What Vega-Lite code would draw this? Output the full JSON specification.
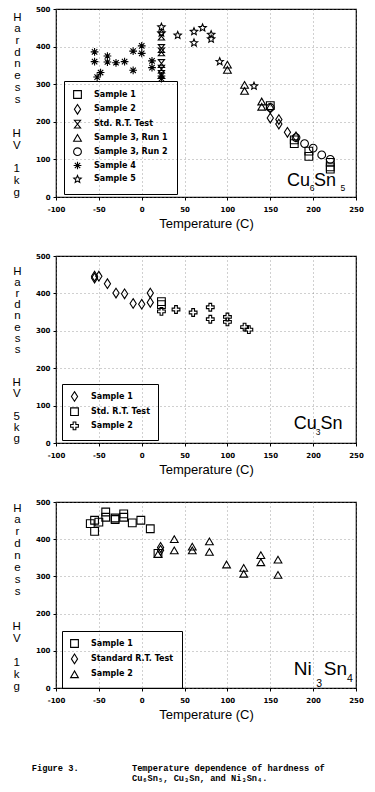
{
  "$schema": "https://vega.github.io/schema/vega-lite/v6.json",
  "padding": {"left": 11, "top": 4, "right": 0, "bottom": 0},
  "spacing": 20,
  "datasets": {
    "cu6sn5": [
      {"series": "Sample 1", "T": 150, "HV": 243},
      {"series": "Sample 1", "T": 178, "HV": 152},
      {"series": "Sample 1", "T": 178, "HV": 142},
      {"series": "Sample 1", "T": 195, "HV": 122},
      {"series": "Sample 1", "T": 195, "HV": 108},
      {"series": "Sample 1", "T": 220, "HV": 92},
      {"series": "Sample 1", "T": 220, "HV": 80},
      {"series": "Sample 1", "T": 220, "HV": 74},
      {"series": "Sample 2", "T": 150, "HV": 236},
      {"series": "Sample 2", "T": 150, "HV": 210},
      {"series": "Sample 2", "T": 160, "HV": 206},
      {"series": "Sample 2", "T": 160, "HV": 194},
      {"series": "Sample 2", "T": 170, "HV": 172},
      {"series": "Sample 2", "T": 180, "HV": 160},
      {"series": "Std. R.T. Test", "T": 23, "HV": 428},
      {"series": "Std. R.T. Test", "T": 23, "HV": 395},
      {"series": "Std. R.T. Test", "T": 23, "HV": 386},
      {"series": "Std. R.T. Test", "T": 23, "HV": 355},
      {"series": "Std. R.T. Test", "T": 23, "HV": 340},
      {"series": "Std. R.T. Test", "T": 23, "HV": 326},
      {"series": "Sample 3, Run 1", "T": 100, "HV": 352},
      {"series": "Sample 3, Run 1", "T": 100, "HV": 338},
      {"series": "Sample 3, Run 1", "T": 120, "HV": 298},
      {"series": "Sample 3, Run 1", "T": 120, "HV": 282},
      {"series": "Sample 3, Run 1", "T": 140, "HV": 254},
      {"series": "Sample 3, Run 1", "T": 140, "HV": 240},
      {"series": "Sample 3, Run 2", "T": 150, "HV": 238},
      {"series": "Sample 3, Run 2", "T": 180, "HV": 158},
      {"series": "Sample 3, Run 2", "T": 190, "HV": 142},
      {"series": "Sample 3, Run 2", "T": 200, "HV": 130},
      {"series": "Sample 3, Run 2", "T": 210, "HV": 112},
      {"series": "Sample 3, Run 2", "T": 220, "HV": 100},
      {"series": "Sample 4", "T": -55, "HV": 386},
      {"series": "Sample 4", "T": -55, "HV": 360},
      {"series": "Sample 4", "T": -48, "HV": 331},
      {"series": "Sample 4", "T": -52, "HV": 319},
      {"series": "Sample 4", "T": -40, "HV": 375},
      {"series": "Sample 4", "T": -40, "HV": 359},
      {"series": "Sample 4", "T": -30, "HV": 357},
      {"series": "Sample 4", "T": -20, "HV": 360},
      {"series": "Sample 4", "T": -10, "HV": 388},
      {"series": "Sample 4", "T": -10, "HV": 337},
      {"series": "Sample 4", "T": 0, "HV": 402},
      {"series": "Sample 4", "T": 0, "HV": 382},
      {"series": "Sample 4", "T": 12, "HV": 362},
      {"series": "Sample 4", "T": 12, "HV": 344},
      {"series": "Sample 4", "T": 23, "HV": 322},
      {"series": "Sample 4", "T": 23, "HV": 315},
      {"series": "Sample 5", "T": 23, "HV": 452},
      {"series": "Sample 5", "T": 23, "HV": 436},
      {"series": "Sample 5", "T": 42, "HV": 430},
      {"series": "Sample 5", "T": 61, "HV": 440},
      {"series": "Sample 5", "T": 61, "HV": 410},
      {"series": "Sample 5", "T": 71, "HV": 450},
      {"series": "Sample 5", "T": 81, "HV": 432},
      {"series": "Sample 5", "T": 81, "HV": 420},
      {"series": "Sample 5", "T": 91, "HV": 360},
      {"series": "Sample 5", "T": 131, "HV": 295}
    ],
    "cu3sn": [
      {"series": "Sample 1", "T": -55, "HV": 441},
      {"series": "Sample 1", "T": -55, "HV": 446},
      {"series": "Sample 1", "T": -50, "HV": 446},
      {"series": "Sample 1", "T": -40, "HV": 426},
      {"series": "Sample 1", "T": -30, "HV": 401},
      {"series": "Sample 1", "T": -20, "HV": 399},
      {"series": "Sample 1", "T": -10, "HV": 373},
      {"series": "Sample 1", "T": 0, "HV": 371},
      {"series": "Sample 1", "T": 10, "HV": 401},
      {"series": "Sample 1", "T": 10, "HV": 376},
      {"series": "Std. R.T. Test", "T": 23, "HV": 378},
      {"series": "Std. R.T. Test", "T": 23, "HV": 370},
      {"series": "Sample 2", "T": 23, "HV": 352},
      {"series": "Sample 2", "T": 40, "HV": 357},
      {"series": "Sample 2", "T": 60, "HV": 349},
      {"series": "Sample 2", "T": 80, "HV": 363},
      {"series": "Sample 2", "T": 80, "HV": 331},
      {"series": "Sample 2", "T": 100, "HV": 337},
      {"series": "Sample 2", "T": 100, "HV": 324},
      {"series": "Sample 2", "T": 120, "HV": 310},
      {"series": "Sample 2", "T": 125, "HV": 303}
    ],
    "ni3sn4": [
      {"series": "Sample 1", "T": -60, "HV": 442},
      {"series": "Sample 1", "T": -55, "HV": 451},
      {"series": "Sample 1", "T": -55, "HV": 421},
      {"series": "Sample 1", "T": -50, "HV": 446},
      {"series": "Sample 1", "T": -42, "HV": 473},
      {"series": "Sample 1", "T": -42, "HV": 459},
      {"series": "Sample 1", "T": -31, "HV": 457},
      {"series": "Sample 1", "T": -31, "HV": 453},
      {"series": "Sample 1", "T": -21, "HV": 468},
      {"series": "Sample 1", "T": -21, "HV": 459},
      {"series": "Sample 1", "T": -11, "HV": 444},
      {"series": "Sample 1", "T": -1, "HV": 451},
      {"series": "Sample 1", "T": 10, "HV": 428},
      {"series": "Sample 1", "T": 19, "HV": 362},
      {"series": "Standard R.T. Test", "T": 22, "HV": 378},
      {"series": "Standard R.T. Test", "T": 22, "HV": 370},
      {"series": "Sample 2", "T": 19, "HV": 360},
      {"series": "Sample 2", "T": 38, "HV": 400},
      {"series": "Sample 2", "T": 38, "HV": 370},
      {"series": "Sample 2", "T": 59, "HV": 380},
      {"series": "Sample 2", "T": 59, "HV": 370},
      {"series": "Sample 2", "T": 79, "HV": 394},
      {"series": "Sample 2", "T": 79, "HV": 366},
      {"series": "Sample 2", "T": 99, "HV": 332},
      {"series": "Sample 2", "T": 119, "HV": 323},
      {"series": "Sample 2", "T": 119, "HV": 307},
      {"series": "Sample 2", "T": 139, "HV": 357},
      {"series": "Sample 2", "T": 139, "HV": 338},
      {"series": "Sample 2", "T": 159, "HV": 345},
      {"series": "Sample 2", "T": 159, "HV": 304}
    ]
  },
  "vconcat": [
    {
      "width": 300,
      "height": 188,
      "layer": [
        {
          "data": {"name": "cu6sn5"},
          "mark": {"type": "point", "filled": false, "stroke": "black", "strokeWidth": 1.1, "size": 60, "opacity": 1},
          "encoding": {
            "x": {"field": "T", "type": "quantitative", "scale": {"domain": [-100, 250], "nice": false, "zero": false},
              "axis": {"title": "Temperature (C)", "values": [-100, -50, 0, 50, 100, 150, 200, 250], "labelExpr": "'' + datum.value", "labelOverlap": false}},
            "y": {"field": "HV", "type": "quantitative", "scale": {"domain": [0, 500], "nice": false},
              "axis": {"title": ["H", "a", "r", "d", "n", "e", "s", "s"], "titleY": 2, "titleLineHeight": 11.73, "values": [0, 100, 200, 300, 400, 500], "labelOverlap": false, "tickCount": 6}},
            "shape": {"field": "series", "type": "nominal",
              "scale": {"domain": ["Sample 1", "Sample 2", "Std. R.T. Test", "Sample 3, Run 1", "Sample 3, Run 2", "Sample 4", "Sample 5"],
                "range": ["square", "M0,-1.25L0.8,0L0,1.25L-0.8,0Z", "M-0.8,-1L0.8,-1L-0.8,1L0.8,1Z", "triangle-up", "circle", "M-1,0L1,0M0,-1L0,1M-0.7,-0.7L0.7,0.7M-0.7,0.7L0.7,-0.7", "M0,-1L0.265,-0.364L0.951,-0.309L0.428,0.139L0.588,0.809L0,0.45L-0.588,0.809L-0.428,0.139L-0.951,-0.309L-0.265,-0.364Z"]},
              "legend": {"legendX": 8, "legendY": 72, "padding": 9, "rowPadding": 0.8}}
          }
        },
        {"data": {"values": [{}]}, "mark": {"type": "text", "align": "center", "baseline": "top", "font": "Liberation Sans", "fontSize": 11.5, "lineHeight": 11.73, "text": ["H", "V"]}, "encoding": {"x": {"datum": -145.8}, "y": {"datum": 182.7}}},
        {"data": {"values": [{}]}, "mark": {"type": "text", "align": "center", "baseline": "top", "font": "Liberation Sans", "fontSize": 11.5, "lineHeight": 11.73, "text": ["1", "k", "g"]}, "encoding": {"x": {"datum": -145.8}, "y": {"datum": 89.1}}},
        {"data": {"values": [{}]}, "mark": {"type": "text", "align": "left", "baseline": "alphabetic", "font": "Liberation Sans", "fontSize": 18}, "encoding": {"x": {"datum": 169.6}, "y": {"datum": 29.3}, "text": {"value": "Cu"}}},
        {"data": {"values": [{}]}, "mark": {"type": "text", "align": "left", "baseline": "alphabetic", "font": "Liberation Sans", "fontSize": 8.5}, "encoding": {"x": {"datum": 196}, "y": {"datum": 16}, "text": {"value": "6"}}},
        {"data": {"values": [{}]}, "mark": {"type": "text", "align": "left", "baseline": "alphabetic", "font": "Liberation Sans", "fontSize": 18}, "encoding": {"x": {"datum": 201}, "y": {"datum": 29.3}, "text": {"value": "Sn"}}},
        {"data": {"values": [{}]}, "mark": {"type": "text", "align": "left", "baseline": "alphabetic", "font": "Liberation Sans", "fontSize": 8.5}, "encoding": {"x": {"datum": 232}, "y": {"datum": 16}, "text": {"value": "5"}}}
      ]
    },
    {
      "width": 300,
      "height": 187,
      "layer": [
        {
          "data": {"name": "cu3sn"},
          "mark": {"type": "point", "filled": false, "stroke": "black", "strokeWidth": 1.1, "size": 60, "opacity": 1},
          "encoding": {
            "x": {"field": "T", "type": "quantitative", "scale": {"domain": [-100, 250], "nice": false, "zero": false},
              "axis": {"title": "Temperature (C)", "values": [-100, -50, 0, 50, 100, 150, 200, 250], "labelExpr": "'' + datum.value", "labelOverlap": false}},
            "y": {"field": "HV", "type": "quantitative", "scale": {"domain": [0, 500], "nice": false},
              "axis": {"title": ["H", "a", "r", "d", "n", "e", "s", "s"], "titleY": 9, "titleLineHeight": 11.2, "values": [0, 100, 200, 300, 400, 500], "labelOverlap": false, "tickCount": 6}},
            "shape": {"field": "series", "type": "nominal",
              "scale": {"domain": ["Sample 1", "Std. R.T. Test", "Sample 2"],
                "range": ["M0,-1.25L0.8,0L0,1.25L-0.8,0Z", "square", "M-0.35,-1L0.35,-1L0.35,-0.35L1,-0.35L1,0.35L0.35,0.35L0.35,1L-0.35,1L-0.35,0.35L-1,0.35L-1,-0.35L-0.35,-0.35Z"]},
              "legend": {"legendX": 6, "legendY": 128, "padding": 8, "rowPadding": 1.2}}
          }
        },
        {"data": {"values": [{}]}, "mark": {"type": "text", "align": "center", "baseline": "top", "font": "Liberation Sans", "fontSize": 11.5, "lineHeight": 11.2, "text": ["H", "V"]}, "encoding": {"x": {"datum": -145.8}, "y": {"datum": 176.5}}},
        {"data": {"values": [{}]}, "mark": {"type": "text", "align": "center", "baseline": "top", "font": "Liberation Sans", "fontSize": 11.5, "lineHeight": 11.2, "text": ["5", "k", "g"]}, "encoding": {"x": {"datum": -145.8}, "y": {"datum": 86.6}}},
        {"data": {"values": [{}]}, "mark": {"type": "text", "align": "left", "baseline": "alphabetic", "font": "Liberation Sans", "fontSize": 18}, "encoding": {"x": {"datum": 177.5}, "y": {"datum": 36.6}, "text": {"value": "Cu"}}},
        {"data": {"values": [{}]}, "mark": {"type": "text", "align": "left", "baseline": "alphabetic", "font": "Liberation Sans", "fontSize": 8.5}, "encoding": {"x": {"datum": 203}, "y": {"datum": 21.4}, "text": {"value": "3"}}},
        {"data": {"values": [{}]}, "mark": {"type": "text", "align": "left", "baseline": "alphabetic", "font": "Liberation Sans", "fontSize": 18}, "encoding": {"x": {"datum": 208.5}, "y": {"datum": 36.6}, "text": {"value": "Sn"}}}
      ]
    },
    {
      "width": 300,
      "height": 186,
      "layer": [
        {
          "data": {"name": "ni3sn4"},
          "mark": {"type": "point", "filled": false, "stroke": "black", "strokeWidth": 1.1, "size": 60, "opacity": 1},
          "encoding": {
            "x": {"field": "T", "type": "quantitative", "scale": {"domain": [-100, 250], "nice": false, "zero": false},
              "axis": {"title": "Temperature (C)", "values": [-100, -50, 0, 50, 100, 150, 200, 250], "labelExpr": "'' + datum.value", "labelOverlap": false}},
            "y": {"field": "HV", "type": "quantitative", "scale": {"domain": [0, 500], "nice": false},
              "axis": {"title": ["H", "a", "r", "d", "n", "e", "s", "s"], "titleY": 0, "titleLineHeight": 11.9, "values": [0, 100, 200, 300, 400, 500], "labelOverlap": false, "tickCount": 6}},
            "shape": {"field": "series", "type": "nominal",
              "scale": {"domain": ["Sample 1", "Standard R.T. Test", "Sample 2"],
                "range": ["square", "M0,-1.25L0.8,0L0,1.25L-0.8,0Z", "triangle-up"]},
              "legend": {"legendX": 6, "legendY": 129, "padding": 8, "rowPadding": 1.4}}
          }
        },
        {"data": {"values": [{}]}, "mark": {"type": "text", "align": "center", "baseline": "top", "font": "Liberation Sans", "fontSize": 11.5, "lineHeight": 11.9, "text": ["H", "V"]}, "encoding": {"x": {"datum": -145.8}, "y": {"datum": 179.3}}},
        {"data": {"values": [{}]}, "mark": {"type": "text", "align": "center", "baseline": "top", "font": "Liberation Sans", "fontSize": 11.5, "lineHeight": 11.9, "text": ["1", "k", "g"]}, "encoding": {"x": {"datum": -145.8}, "y": {"datum": 83.3}}},
        {"data": {"values": [{}]}, "mark": {"type": "text", "align": "left", "baseline": "alphabetic", "font": "Liberation Sans", "fontSize": 19}, "encoding": {"x": {"datum": 177.5}, "y": {"datum": 35}, "text": {"value": "Ni"}}},
        {"data": {"values": [{}]}, "mark": {"type": "text", "align": "left", "baseline": "alphabetic", "font": "Liberation Sans", "fontSize": 10.5}, "encoding": {"x": {"datum": 203.5}, "y": {"datum": 2}, "text": {"value": "3"}}},
        {"data": {"values": [{}]}, "mark": {"type": "text", "align": "left", "baseline": "alphabetic", "font": "Liberation Sans", "fontSize": 19}, "encoding": {"x": {"datum": 212.5}, "y": {"datum": 35}, "text": {"value": "Sn"}}},
        {"data": {"values": [{}]}, "mark": {"type": "text", "align": "left", "baseline": "alphabetic", "font": "Liberation Sans", "fontSize": 10.5}, "encoding": {"x": {"datum": 239.5}, "y": {"datum": 17}, "text": {"value": "4"}}},
        {"data": {"values": [{}]}, "mark": {"type": "text", "align": "left", "baseline": "alphabetic", "font": "Liberation Mono", "fontSize": 8.7, "fontWeight": "bold"}, "encoding": {"x": {"datum": -128.3}, "y": {"datum": -222.3}, "text": {"value": "Figure 3."}}},
        {"data": {"values": [{}]}, "mark": {"type": "text", "align": "left", "baseline": "alphabetic", "font": "Liberation Mono", "fontSize": 8.7, "fontWeight": "bold"}, "encoding": {"x": {"datum": -11.4}, "y": {"datum": -222.3}, "text": {"value": "Temperature dependence of hardness of"}}},
        {"data": {"values": [{}]}, "mark": {"type": "text", "align": "left", "baseline": "alphabetic", "font": "Liberation Mono", "fontSize": 8.7, "fontWeight": "bold"}, "encoding": {"x": {"datum": -11.4}, "y": {"datum": -251.3}, "text": {"value": "Cu₆Sn₅, Cu₃Sn, and Ni₃Sn₄."}}}
      ]
    }
  ],
  "resolve": {"scale": {"shape": "independent", "x": "independent", "y": "independent"}, "legend": {"shape": "independent"}},
  "config": {
    "view": {"stroke": "black", "strokeWidth": 1.2},
    "axis": {
      "domain": false, "grid": true, "gridColor": "#777", "gridDash": [1, 3], "gridOpacity": 0.7, "gridWidth": 1,
      "labelFont": "DejaVu Sans", "labelFontWeight": "bold", "labelFontSize": 7, "labelColor": "black", "labelOverlap": false,
      "tickColor": "black", "tickSize": 3, "labelPadding": 3,
      "titleFont": "Liberation Sans", "titleFontWeight": "normal", "titleColor": "black"
    },
    "axisX": {"titleFontSize": 13, "titlePadding": 5, "labelPadding": 5, "labelFlush": false},
    "axisY": {"titleAngle": 0, "titleAlign": "center", "titleBaseline": "top", "titleFontSize": 11.5, "titleX": -39},
    "legend": {
      "orient": "none", "title": null, "strokeColor": "black",
      "labelFont": "DejaVu Sans", "labelFontWeight": "bold", "labelFontSize": 8, "labelColor": "black",
      "symbolStrokeColor": "black", "symbolStrokeWidth": 1.1, "symbolSize": 60, "labelOffset": 12, "symbolFillColor": "transparent"
    }
  }
}
